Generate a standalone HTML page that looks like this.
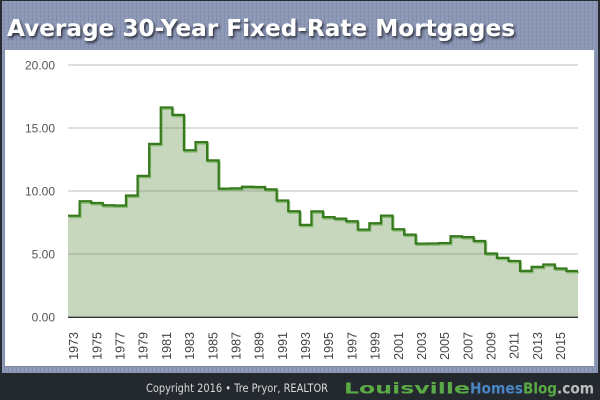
<!DOCTYPE html>
<html><head><meta charset="utf-8"><style>
html,body{margin:0;padding:0;width:600px;height:400px;overflow:hidden;background:#262b32;}
svg{display:block;}
</style></head><body>
<svg width="600" height="400" viewBox="0 0 600 400" xmlns="http://www.w3.org/2000/svg">
<defs>
<pattern id="tex" width="4" height="4" patternUnits="userSpaceOnUse">
<rect width="4" height="4" fill="#8c97b6"/>
<rect x="0" y="0" width="1" height="4" fill="#8290ae"/>
<rect x="2" y="1" width="1" height="2" fill="#98a2bf"/>
</pattern>
<filter id="ts" x="-5%" y="-30%" width="110%" height="160%">
<feDropShadow dx="1.5" dy="2" stdDeviation="1.2" flood-color="#1a1f2a" flood-opacity="0.85"/>
</filter>
</defs>
<rect x="0" y="0" width="600" height="400" fill="#262b32"/>
<rect x="2" y="1" width="596" height="372" fill="url(#tex)"/>
<rect x="5" y="50" width="589" height="317" fill="#ffffff"/>
<rect x="5" y="366" width="589" height="1" fill="#7f89a3"/>
<!-- title -->
<text x="7" y="36" font-family="DejaVu Sans, Liberation Sans, sans-serif" font-weight="bold" font-size="23" fill="#ffffff" textLength="508" lengthAdjust="spacingAndGlyphs" filter="url(#ts)">Average 30-Year Fixed-Rate Mortgages</text>
<!-- fill -->
<g transform="translate(68,317) scale(11.5909,-12.6)">
<path fill="#c6d7bd" d="M0,0 V8.04 H1 V9.19 H2 V9.05 H3 V8.87 H4 V8.85 H5 V9.64 H6 V11.20 H7 V13.74 H8 V16.63 H9 V16.04 H10 V13.24 H11 V13.88 H12 V12.43 H13 V10.19 H14 V10.21 H15 V10.34 H16 V10.32 H17 V10.13 H18 V9.25 H19 V8.39 H20 V7.31 H21 V8.38 H22 V7.93 H23 V7.81 H24 V7.60 H25 V6.94 H26 V7.44 H27 V8.05 H28 V6.97 H29 V6.54 H30 V5.83 H31 V5.84 H32 V5.87 H33 V6.41 H34 V6.34 H35 V6.03 H36 V5.04 H37 V4.69 H38 V4.45 H39 V3.66 H40 V3.98 H41 V4.17 H42 V3.85 H43 V3.65 H44 V0 Z"/>
</g>
<!-- gridlines -->
<g stroke="#8a8a8a" stroke-opacity="0.45" stroke-width="1.3">
<line x1="68" y1="65" x2="578" y2="65"/>
<line x1="68" y1="128" x2="578" y2="128"/>
<line x1="68" y1="191" x2="578" y2="191"/>
<line x1="68" y1="254" x2="578" y2="254"/>
</g>
<!-- line shadow -->
<g transform="translate(69,318.5) scale(11.5909,-12.6)">
<path fill="none" stroke="#6fae55" stroke-opacity="0.7" stroke-width="2" vector-effect="non-scaling-stroke" d="M0,8.04 H1 V9.19 H2 V9.05 H3 V8.87 H4 V8.85 H5 V9.64 H6 V11.20 H7 V13.74 H8 V16.63 H9 V16.04 H10 V13.24 H11 V13.88 H12 V12.43 H13 V10.19 H14 V10.21 H15 V10.34 H16 V10.32 H17 V10.13 H18 V9.25 H19 V8.39 H20 V7.31 H21 V8.38 H22 V7.93 H23 V7.81 H24 V7.60 H25 V6.94 H26 V7.44 H27 V8.05 H28 V6.97 H29 V6.54 H30 V5.83 H31 V5.84 H32 V5.87 H33 V6.41 H34 V6.34 H35 V6.03 H36 V5.04 H37 V4.69 H38 V4.45 H39 V3.66 H40 V3.98 H41 V4.17 H42 V3.85 H43 V3.65 H44"/>
</g>
<g transform="translate(68,317) scale(11.5909,-12.6)">
<path fill="none" stroke="#377a1e" stroke-width="2.2" stroke-linejoin="miter" vector-effect="non-scaling-stroke" d="M0,8.04 H1 V9.19 H2 V9.05 H3 V8.87 H4 V8.85 H5 V9.64 H6 V11.20 H7 V13.74 H8 V16.63 H9 V16.04 H10 V13.24 H11 V13.88 H12 V12.43 H13 V10.19 H14 V10.21 H15 V10.34 H16 V10.32 H17 V10.13 H18 V9.25 H19 V8.39 H20 V7.31 H21 V8.38 H22 V7.93 H23 V7.81 H24 V7.60 H25 V6.94 H26 V7.44 H27 V8.05 H28 V6.97 H29 V6.54 H30 V5.83 H31 V5.84 H32 V5.87 H33 V6.41 H34 V6.34 H35 V6.03 H36 V5.04 H37 V4.69 H38 V4.45 H39 V3.66 H40 V3.98 H41 V4.17 H42 V3.85 H43 V3.65 H44"/>
</g>
<!-- axis -->
<line x1="68" y1="317.3" x2="578" y2="317.3" stroke="#333" stroke-width="1.3"/>
<!-- y labels -->
<g font-family="Liberation Sans, Arial, sans-serif" font-size="12" fill="#555" text-anchor="end">
<text x="55" y="69.5">20.00</text>
<text x="55" y="132.5">15.00</text>
<text x="55" y="195.5">10.00</text>
<text x="55" y="258.5">5.00</text>
<text x="55" y="321.5">0.00</text>
</g>
<!-- x labels -->
<g font-family="Liberation Sans, Arial, sans-serif" font-size="12.5" fill="#444" text-anchor="end">
<text transform="translate(78.2,332) rotate(-90)">1973</text>
<text transform="translate(101.4,332) rotate(-90)">1975</text>
<text transform="translate(124.6,332) rotate(-90)">1977</text>
<text transform="translate(147.7,332) rotate(-90)">1979</text>
<text transform="translate(170.9,332) rotate(-90)">1981</text>
<text transform="translate(194.1,332) rotate(-90)">1983</text>
<text transform="translate(217.3,332) rotate(-90)">1985</text>
<text transform="translate(240.5,332) rotate(-90)">1987</text>
<text transform="translate(263.7,332) rotate(-90)">1989</text>
<text transform="translate(286.8,332) rotate(-90)">1991</text>
<text transform="translate(310.0,332) rotate(-90)">1993</text>
<text transform="translate(333.2,332) rotate(-90)">1995</text>
<text transform="translate(356.4,332) rotate(-90)">1997</text>
<text transform="translate(379.6,332) rotate(-90)">1999</text>
<text transform="translate(402.8,332) rotate(-90)">2001</text>
<text transform="translate(425.9,332) rotate(-90)">2003</text>
<text transform="translate(449.1,332) rotate(-90)">2005</text>
<text transform="translate(472.3,332) rotate(-90)">2007</text>
<text transform="translate(495.5,332) rotate(-90)">2009</text>
<text transform="translate(518.7,332) rotate(-90)">2011</text>
<text transform="translate(541.9,332) rotate(-90)">2013</text>
<text transform="translate(565.0,332) rotate(-90)">2015</text>
</g>
<!-- footer -->
<rect x="0" y="373" width="600" height="27" fill="#24292f"/>
<text x="146" y="392" font-family="DejaVu Sans, Liberation Sans, sans-serif" font-size="11.5" fill="#d8d8d8" textLength="182" lengthAdjust="spacingAndGlyphs">Copyright 2016 • Tre Pryor, REALTOR</text>
<g font-family="DejaVu Sans, Liberation Sans, sans-serif" font-weight="bold" font-size="15.5">
<text x="344" y="393.5" fill="#5aaa46" textLength="126" lengthAdjust="spacingAndGlyphs">Louisville</text>
<text x="470" y="393.5" fill="#4a86c6" textLength="53" lengthAdjust="spacingAndGlyphs">Homes</text>
<text x="523" y="393.5" fill="#5aaa46" textLength="34" lengthAdjust="spacingAndGlyphs">Blog</text>
<text x="557" y="393.5" fill="#bdbdbd" textLength="37" lengthAdjust="spacingAndGlyphs">.com</text>
</g>
</svg>
</body></html>
